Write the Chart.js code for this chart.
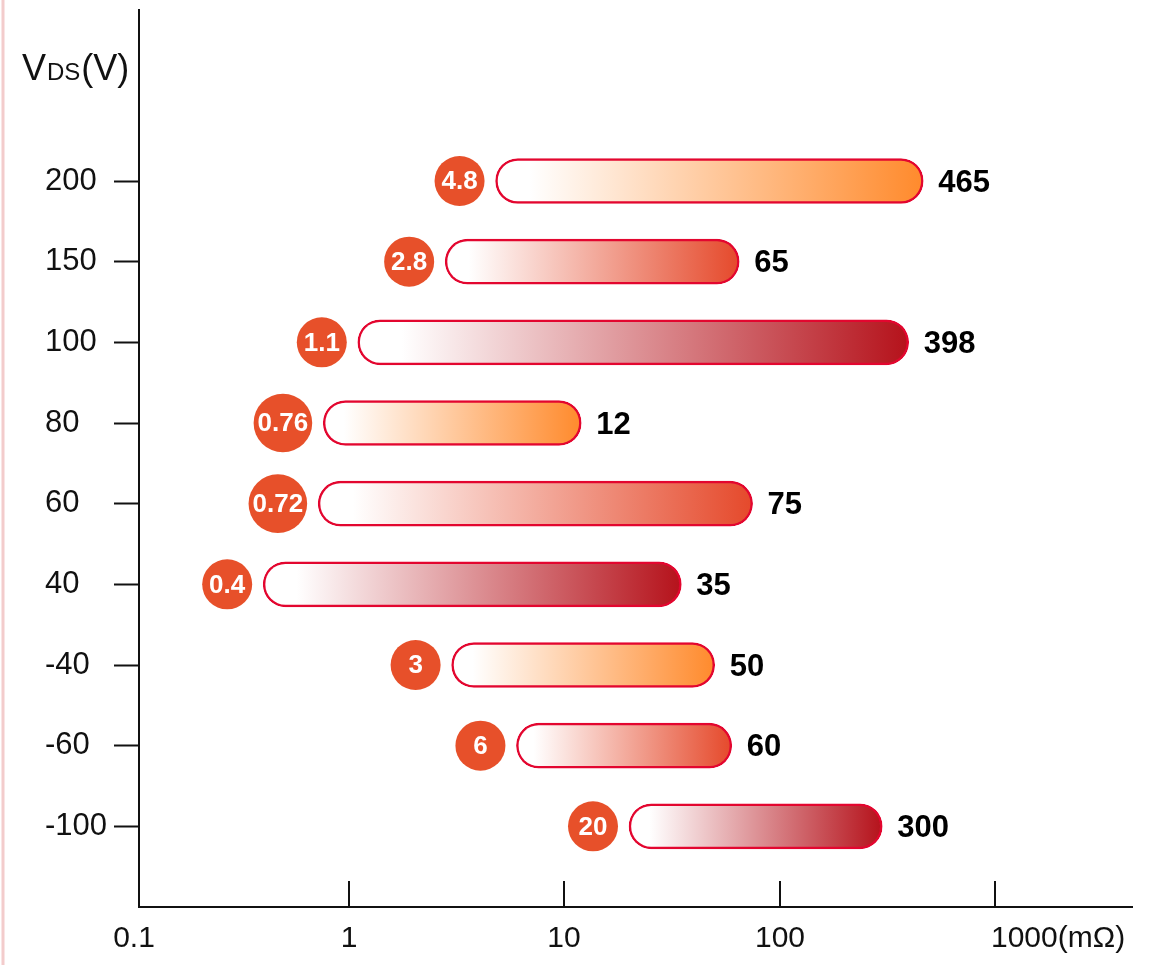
<!DOCTYPE html>
<html>
<head>
<meta charset="utf-8">
<script src="https://cdn.jsdelivr.net/npm/chart.js@4/dist/chart.umd.min.js"></script>
<style>
  html, body { margin: 0; padding: 0; background: #fff; }
  #wrap { width: 1152px; height: 965px; }
</style>
</head>
<body>
<div id="wrap"><canvas id="chart" width="1152" height="965"></canvas></div>
<script>
// Drain-source voltage classes (rows, top to bottom)
const vdsLabels = ['200', '150', '100', '80', '60', '40', '-40', '-60', '-100'];
// On-resistance range per voltage class, in milliohms
const ronMin = [4.8, 2.8, 1.1, 0.76, 0.72, 0.4, 3, 6, 20];
const ronMax = [465, 65, 398, 12, 75, 35, 50, 60, 300];
// Resistance axis ticks
const xTickValues = [0.1, 1, 10, 100, 1000];
const xTickLabels = ['0.1', '1', '10', '100', '1000(mΩ)'];

// Styling
const FONT = '"Liberation Sans", Arial, Helvetica, sans-serif';
const ORANGE = '#ff8a2c', RED = '#e5492b', DARK = '#b5121b';
const rowColors = [ORANGE, RED, DARK, ORANGE, RED, DARK, ORANGE, RED, DARK];
const BORDER = '#e3062f';
const DOT = '#e7502a';

const barData = vdsLabels.map((_, i) => ({ x: [ronMin[i], ronMax[i]], y: i }));

function barGradient(ctx) {
  const chart = ctx.chart;
  const xs = chart.scales.x;
  if (!chart.chartArea || !xs || ctx.dataIndex === undefined) return rowColors[0];
  const i = ctx.dataIndex;
  const x0 = xs.getPixelForValue(ronMin[i]);
  const x1 = xs.getPixelForValue(ronMax[i]);
  const g = chart.ctx.createLinearGradient(x0, 0, x1, 0);
  g.addColorStop(0, '#ffffff');
  g.addColorStop(0.08, '#ffffff');
  g.addColorStop(1, rowColors[i]);
  return g;
}

const decorations = {
  id: 'decorations',
  beforeDraw(chart) {
    const c = chart.ctx;
    c.save();
    c.fillStyle = '#ffffff';
    c.fillRect(0, 0, chart.width, chart.height);
    c.strokeStyle = '#f3cccc';
    c.lineWidth = 3;
    c.beginPath();
    c.moveTo(3, 0);
    c.lineTo(3, chart.height);
    c.stroke();
    c.restore();
  },
  afterDatasetsDraw(chart) {
    const c = chart.ctx;
    const meta = chart.getDatasetMeta(0);
    c.save();
    meta.data.forEach((bar, i) => {
      const start = Math.min(bar.base, bar.x);
      const end = Math.max(bar.base, bar.x);
      const y = bar.y;
      // min value badge
      const txt = String(ronMin[i]);
      c.font = 'bold 26px ' + FONT;
      const w = c.measureText(txt).width;
      const r = Math.max(25, w / 2 + 4);
      const cx = start - 11 - r;
      c.fillStyle = DOT;
      c.beginPath();
      c.arc(cx, y, r, 0, Math.PI * 2);
      c.fill();
      c.fillStyle = '#ffffff';
      c.textAlign = 'center';
      c.textBaseline = 'middle';
      c.fillText(txt, cx, y + 1);
      // max value label
      c.font = 'bold 31px ' + FONT;
      c.fillStyle = '#000000';
      c.textAlign = 'left';
      c.fillText(String(ronMax[i]), end + 15, y + 2);
    });
    c.restore();
  },
  afterDraw(chart) {
    const c = chart.ctx;
    const xs = chart.scales.x;
    const area = chart.chartArea;
    c.save();
    // x tick marks (inside, pointing up) and labels
    c.strokeStyle = '#111111';
    c.lineWidth = 2;
    c.fillStyle = '#111111';
    c.font = '30px ' + FONT;
    c.textBaseline = 'alphabetic';
    xTickValues.forEach((v, k) => {
      const px = Math.round(xs.getPixelForValue(v));
      if (v > xTickValues[0]) {
        c.beginPath();
        c.moveTo(px, area.bottom);
        c.lineTo(px, area.bottom - 26);
        c.stroke();
      }
      if (k === xTickValues.length - 1) {
        c.textAlign = 'left';
        c.fillText(xTickLabels[k], px - 4, 947);
      } else {
        c.textAlign = 'center';
        c.fillText(xTickLabels[k], px, 947);
      }
    });
    // axis title V_DS(V)
    c.textAlign = 'left';
    let x = 22;
    c.font = '36px ' + FONT;
    c.fillText('V', x, 80);
    x += c.measureText('V').width + 1;
    c.font = '24px ' + FONT;
    c.fillText('DS', x, 80);
    x += c.measureText('DS').width + 1;
    c.font = '36px ' + FONT;
    c.fillText('(V)', x, 80);
    c.restore();
  }
};

new Chart(document.getElementById('chart'), {
  type: 'bar',
  data: {
    datasets: [{
      data: barData,
      backgroundColor: barGradient,
      borderColor: BORDER,
      borderWidth: 2.5,
      borderSkipped: false,
      borderRadius: 23,
      barThickness: 45
    }]
  },
  options: {
    indexAxis: 'y',
    responsive: false,
    animation: false,
    layout: { padding: { left: 45, top: 10, right: 20, bottom: 0 } },
    plugins: { legend: { display: false }, tooltip: { enabled: false } },
    scales: {
      x: {
        type: 'logarithmic',
        position: 'bottom',
        min: 0.106,
        max: 4335,
        grid: { display: false },
        ticks: { display: false },
        border: { display: true, color: '#111111', width: 2 },
        afterFit(scale) {
          scale.height = 58;
          scale.paddingLeft = 0;
          scale.paddingRight = 0;
        }
      },
      y: {
        type: 'linear',
        position: 'left',
        reverse: true,
        offset: false,
        min: -2.12,
        max: 9.0,
        afterBuildTicks(scale) {
          scale.ticks = vdsLabels.map((_, i) => ({ value: i }));
        },
        afterFit(scale) {
          scale.width = 94;
          scale.paddingTop = 0;
          scale.paddingBottom = 0;
        },
        grid: {
          offset: false,
          drawOnChartArea: false,
          drawTicks: true,
          tickLength: 25,
          tickWidth: 2,
          tickColor: '#111111',
          color: '#111111'
        },
        border: { display: true, color: '#111111', width: 2 },
        ticks: {
          crossAlign: 'far',
          color: '#111111',
          font: { family: FONT, size: 31 },
          callback: (v) => vdsLabels[v] !== undefined ? vdsLabels[v] : ''
        }
      }
    }
  },
  plugins: [decorations]
});
</script>
</body>
</html>
